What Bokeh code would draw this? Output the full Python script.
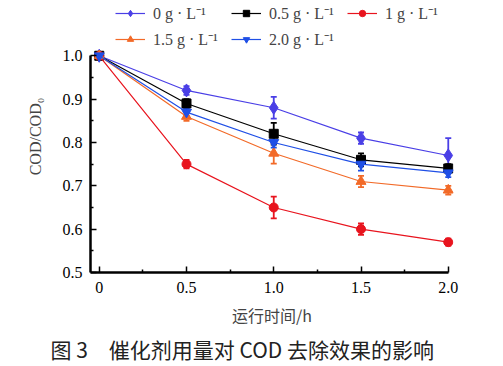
from bokeh.plotting import figure
from bokeh.models import (ColumnDataSource, Whisker, TeeHead, Legend, LegendItem,
                          Title, FixedTicker)
from bokeh.embed import file_html
from bokeh.resources import INLINE

time_h = [0, 0.5, 1.0, 1.5, 2.0]
labels = ["0 g · L⁻¹", "0.5 g · L⁻¹", "1 g · L⁻¹", "1.5 g · L⁻¹", "2.0 g · L⁻¹"]
cod_0 = [1.0, 0.92, 0.88, 0.81, 0.77]
err_0 = [0.0, 0.010, 0.025, 0.013, 0.040]
cod_05 = [1.0, 0.89, 0.82, 0.76, 0.74]
err_05 = [0.0, 0.010, 0.025, 0.015, 0.010]
cod_1 = [1.0, 0.75, 0.65, 0.60, 0.57]
err_1 = [0.0, 0.010, 0.025, 0.013, 0.008]
cod_15 = [1.0, 0.86, 0.775, 0.71, 0.69]
err_15 = [0.0, 0.010, 0.024, 0.013, 0.010]
cod_20 = [1.0, 0.87, 0.80, 0.75, 0.73]
err_20 = [0.0, 0.008, 0.012, 0.015, 0.010]

series = [
    (cod_0, err_0, "#4a3fe6", "diamond", 13),
    (cod_05, err_05, "#000000", "square", 9),
    (cod_1, err_1, "#e8141e", "circle", 9),
    (cod_15, err_15, "#f26a28", "triangle", 10),
    (cod_20, err_20, "#1f4fe6", "inverted_triangle", 10),
]

SERIF = "Liberation Serif"

p = figure(width=503, height=366, output_backend="svg",
           toolbar_location=None, x_range=(-0.05, 2.03), y_range=(0.5, 1.1275),
           min_border_left=90, min_border_right=50, min_border_top=0,
           min_border_bottom=94)
p.outline_line_color = None
p.grid.visible = False
p.background_fill_color = "white"

items = []
for vals, errs, col, mk, sz in series:
    src = ColumnDataSource(dict(x=time_h, y=vals,
                                lo=[v - e for v, e in zip(vals, errs)],
                                hi=[v + e for v, e in zip(vals, errs)]))
    w = Whisker(base="x", lower="lo", upper="hi", source=src,
                line_color=col, line_width=1.8,
                upper_head=TeeHead(size=6, line_color=col, line_width=1.8),
                lower_head=TeeHead(size=6, line_color=col, line_width=1.8))
    p.add_layout(w)
    ln = p.line("x", "y", source=src, line_color=col, line_width=1.2)
    sc = p.scatter("x", "y", source=src, marker=mk, size=sz,
                   fill_color=col, line_color=col)
    items.append((ln, sc))

leg_items = [LegendItem(label=lab, renderers=[ln, sc]) for lab, (ln, sc) in zip(labels, items)]
legend = Legend(items=leg_items, nrows=2, orientation="horizontal",
                label_text_font=SERIF, label_text_font_size="16px",
                glyph_width=30, glyph_height=16, label_standoff=8, spacing=4,
                label_width=74,
                border_line_color=None, background_fill_alpha=0,
                padding=0, margin=0, location=(25, 222), label_height=16)
p.add_layout(legend, "center")

for ax in (p.xaxis[0], p.yaxis[0]):
    ax.axis_line_width = 2.5
    ax.axis_line_color = "black"
    ax.major_tick_in = 6
    ax.major_tick_out = 0
    ax.minor_tick_in = 3
    ax.minor_tick_out = 0
    ax.major_tick_line_width = 1.5
    ax.minor_tick_line_width = 1.5
    ax.major_label_text_font = SERIF
    ax.major_label_text_font_size = "16px"
    ax.major_label_text_color = "black"

p.xaxis.bounds = (-0.05, 2.0)
p.yaxis.bounds = (0.5, 1.0)
p.xaxis.ticker = FixedTicker(ticks=[0, 0.5, 1.0, 1.5, 2.0],
                             minor_ticks=[0.25, 0.75, 1.25, 1.75])
p.xaxis.major_label_overrides = {0: "0", 0.5: "0.5", 1: "1.0", 1.5: "1.5", 2: "2.0"}
p.yaxis.ticker = FixedTicker(ticks=[0.5, 0.6, 0.7, 0.8, 0.9, 1.0],
                             minor_ticks=[0.55, 0.65, 0.75, 0.85, 0.95])
p.yaxis.major_label_overrides = {0.5: "0.5", 0.6: "0.6", 0.7: "0.7", 0.8: "0.8",
                                 0.9: "0.9", 1.0: "1.0"}
p.xaxis.major_label_standoff = 9
p.yaxis.major_label_standoff = 8

p.xaxis.axis_label = "运行时间/h"
p.xaxis.axis_label_text_font = "Noto Sans CJK SC"
p.xaxis.axis_label_text_font_size = "16px"
p.xaxis.axis_label_text_font_style = "normal"
p.xaxis.axis_label_standoff = 7
p.yaxis.axis_label = "COD/COD₀"
p.yaxis.axis_label_text_font = SERIF
p.yaxis.axis_label_text_font_size = "16px"
p.yaxis.axis_label_text_font_style = "normal"
p.yaxis.axis_label_standoff = 16

cap = Title(text="图 3　催化剂用量对 COD 去除效果的影响", align="left",
            text_font="Noto Sans CJK SC", text_font_size="21px",
            text_font_style="normal", text_color="#222222", offset=-40,
            standoff=4)
p.add_layout(cap, "below")

open("out.html", "w").write(file_html(p, INLINE))
